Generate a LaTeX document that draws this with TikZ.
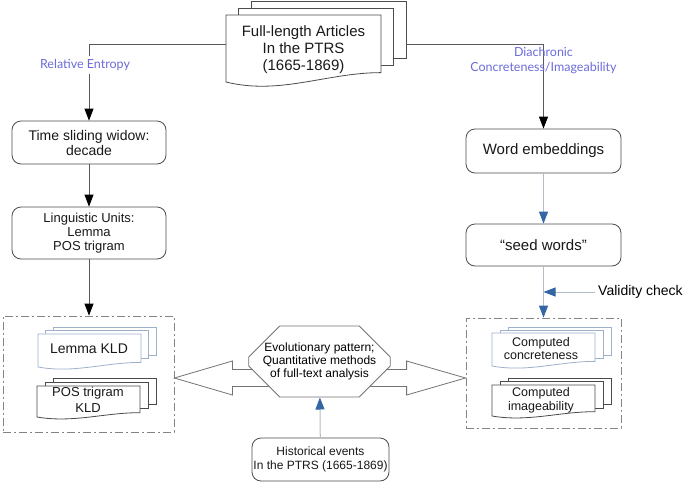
\documentclass[tikz,border=0pt]{standalone}
\usepackage{fontspec}
\setmainfont{Liberation Sans}
\newfontfamily\labelfont{Lato}
\usetikzlibrary{arrows.meta,positioning,shapes.misc,calc}

\definecolor{lineblue}{HTML}{3465A4}
\definecolor{linegrey}{HTML}{B4BCC6}
\definecolor{labelviolet}{HTML}{6B6BDB}
\definecolor{pagegrey}{HTML}{4A4A4A}
\definecolor{pageblue}{HTML}{9DB0CC}
\definecolor{groupgrey}{HTML}{858585}

\tikzset{
  roundbox/.style={draw=black!70, line width=0.8pt, rounded corners=9pt, fill=white, align=center, text=black!90, inner sep=1pt},
  pagetext/.style={align=center, inner sep=0pt, text=black!90},
  blackflow/.style={draw=black!65, line width=0.8pt, -{Triangle[width=9pt,length=12pt,color=black]}},
  blueflow/.style={draw=linegrey, line width=1pt, -{Triangle[width=9pt,length=12pt,color=lineblue]}},
  groupbox/.style={draw=groupgrey, line width=0.8pt, dash pattern=on 8pt off 3pt on 2pt off 3pt},
  flowlabel/.style={font=\labelfont\fontsize{12.5}{15}\selectfont, text=labelviolet, align=center},
  bigarrow/.style={draw=black!55, line width=0.8pt, fill=white},
}

\begin{document}
\begin{tikzpicture}[x=1pt,y=-1pt]
  \useasboundingbox (0,0) rectangle (685,482);

  % dashed result groups
  \node (leftgroup) [groupbox, minimum width=171pt, minimum height=116pt] at (88.5,374) {};
  \node (rightgroup) [groupbox, minimum width=155pt, minimum height=110pt] at (543.5,373) {};

  % document stacks: x/y/width/height/dx/dy/colour
  \foreach \px/\py/\pw/\ph/\dx/\dy/\pc in {226/15/155/67/12.5/7/black!70,
      38/334/103/33/7.5/3.5/pageblue, 37/386/103/31/8/4/pagegrey,
      492/333/103/33/8/3/pageblue, 492/385/103/31/8/3.5/pagegrey} {
    \foreach \k in {2,1} {
      \draw[draw=\pc, line width=0.8pt, fill=white] ({\px+\k*\dx},{\py-\k*\dy}) rectangle ++(\pw,{0.86*\ph});
    }
    \draw[draw=\pc, line width=0.8pt, fill=white] (\px,\py) -- ++(\pw,0) -- ++(0,{0.86*\ph})
      .. controls +({-0.35*\pw},0) and +({0.35*\pw},{0.2*\ph}) .. (\px,{\py+\ph}) -- cycle;
  }

  \node (articles) [pagetext, minimum width=155pt, font=\fontsize{15}{17}\selectfont] at (303.5,50) {Full-length Articles\\In the PTRS\\(1665-1869)};
  \node (lemmakld) [pagetext, font=\fontsize{14}{16}\selectfont] at (89,349) {Lemma KLD};
  \node (poskld) [pagetext, font=\fontsize{13}{15.5}\selectfont] at (88,400) {POS trigram\\KLD};
  \node (concrete) [pagetext, font=\fontsize{12.5}{13.5}\selectfont] at (541,348.5) {Computed\\concreteness};
  \node (imageab) [pagetext, font=\fontsize{12.5}{14}\selectfont] at (541,400) {Computed\\imageability};

  % process boxes
  \node (timebox) [roundbox, minimum width=154pt, minimum height=43pt, font=\fontsize{14}{15}\selectfont] at (89,142.5) {Time sliding widow:\\decade};
  \node (unitsbox) [roundbox, minimum width=154pt, minimum height=52pt, font=\fontsize{13}{14}\selectfont] at (89,233) {Linguistic Units:\\Lemma\\POS trigram};
  \node (embedbox) [roundbox, minimum width=155pt, minimum height=44pt, font=\fontsize{15}{17}\selectfont] at (543.5,151) {Word embeddings};
  \node (seedbox) [roundbox, minimum width=155pt, minimum height=42pt, font=\fontsize{15}{17}\selectfont] at (543.5,245) {“seed words”};
  \node (histbox) [roundbox, minimum width=137pt, minimum height=43pt, inner sep=0pt, font=\fontsize{12}{14.5}\selectfont] at (320.5,459.5) {Historical events\\In the PTRS (1665-1869)};
  \node (validity) [anchor=west, inner sep=3pt, font=\fontsize{14}{16}\selectfont] at (595,292) {Validity check};

  % double block arrow behind the octagon
  \coordinate (lefttip) at ([yshift=-4pt]leftgroup.east);
  \coordinate (righttip) at ([yshift=-5pt]rightgroup.west);
  \draw[bigarrow] (lefttip) -- ++(58,-17) -- ++(0,8.5) -- ($(righttip)+(-59,-8.5)$) -- ++(0,-8.5)
    -- (righttip) -- ++(-59,17) -- ++(0,-8.5) -- ($(lefttip)+(58,8.5)$) -- ++(0,8.5) -- cycle;

  \node (pattern) [chamfered rectangle, chamfered rectangle xsep=14pt, chamfered rectangle ysep=17pt,
    draw=black!55, line width=0.8pt, fill=white, minimum width=121pt, minimum height=69pt, inner sep=0pt,
    align=center, font=\fontsize{12}{13}\selectfont] at (319.5,361.5) {Evolutionary pattern;\\Quantitative methods\\of full-text analysis};

  % connectors
  \draw[blackflow] ([yshift=6pt]articles.west) -| node[flowlabel, fill=white, pos=0.64, xshift=-4pt] {Relative Entropy} (timebox.north);
  \draw[blackflow] ([xshift=25pt,yshift=6pt]articles.east) -| node[flowlabel, pos=0.6] {Diachronic\\Concreteness/Imageability} (embedbox.north);
  \draw[blackflow] (timebox) -- (unitsbox);
  \draw[blackflow] (unitsbox.south) -- (unitsbox.south |- leftgroup.north);
  \draw[blueflow] (embedbox) -- (seedbox);
  \draw[blueflow] (seedbox.south) -- (seedbox.south |- rightgroup.north);
  \draw[blueflow] (validity.west) -- (validity.west -| seedbox.south);
  \draw[blueflow] (histbox) -- (pattern);
\end{tikzpicture}
\end{document}
